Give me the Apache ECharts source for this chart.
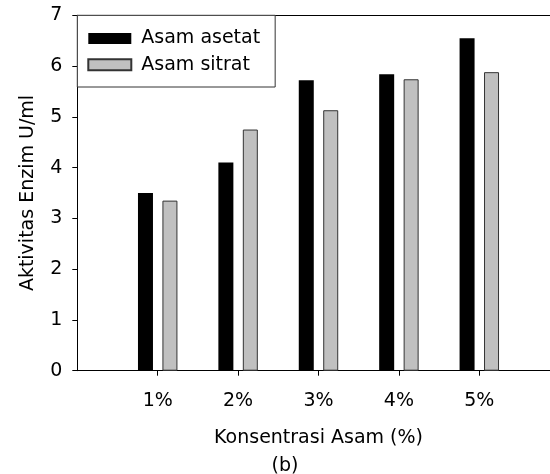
<!DOCTYPE html>
<html>
<head>
<meta charset="utf-8">
<script src="https://cdn.jsdelivr.net/npm/echarts@6/dist/echarts.min.js"></script>
<style>
  html, body { margin: 0; padding: 0; background: #fff; }
  #chart { width: 550px; height: 474px; }
</style>
</head>
<body>
<div id="chart"></div>
<script>
// Enzyme activity (U/ml) for each acid concentration
const categories = ['1%', '2%', '3%', '4%', '5%'];
const asamAsetat = [3.50, 4.10, 5.72, 5.84, 6.55];
const asamSitrat = [3.35, 4.75, 5.13, 5.74, 5.88];
const yTicks = [0, 1, 2, 3, 4, 5, 6, 7];

// Pad with an empty slot on each side so the groups sit between the axes
const axisCats = [''].concat(categories, ['']);
const pad = arr => [null].concat(arr, [null]);

const FONT = 'DejaVu Sans';
const chart = echarts.init(document.getElementById('chart'), null, { renderer: 'canvas' });

chart.setOption({
  animation: false,
  backgroundColor: '#fff',
  textStyle: { fontFamily: FONT },
  grid: {
    left: 77.3, top: 15.3, height: 355.4, width: 482.4,
    containLabel: false, outerBoundsMode: 'none'
  },
  legend: {
    orient: 'vertical',
    left: 77.3,
    top: 15.3,
    itemWidth: 43,
    itemHeight: 11,
    itemGap: 7.3,
    padding: [13.7, 15, 12.7, 10],
    borderColor: '#333',
    borderWidth: 1,
    backgroundColor: '#fff',
    icon: 'rect',
    textStyle: { fontFamily: FONT, fontSize: 19, color: '#000', padding: [0, 0, 0, 5] },
    data: ['Asam asetat', 'Asam sitrat']
  },
  xAxis: [
    {
      type: 'category',
      data: axisCats,
      boundaryGap: false,
      name: 'Konsentrasi Asam (%)',
      nameLocation: 'middle',
      nameGap: 58,
      nameTextStyle: { fontFamily: FONT, fontSize: 19, color: '#000' },
      axisLine: { lineStyle: { color: '#000', width: 1 } },
      axisTick: {
        length: 5,
        lineStyle: { color: '#000' },
        interval: i => i > 0 && i < axisCats.length - 1
      },
      axisLabel: { fontFamily: FONT, fontSize: 19, color: '#000', margin: 21, interval: 0 },
      splitLine: { show: false }
    },
    {
      type: 'category',
      data: axisCats,
      boundaryGap: false,
      position: 'top',
      axisLine: { lineStyle: { color: '#000', width: 1 } },
      axisTick: { show: false },
      axisLabel: { show: false },
      splitLine: { show: false }
    }
  ],
  yAxis: {
    type: 'value',
    min: yTicks[0],
    max: yTicks[yTicks.length - 1],
    interval: 1,
    name: 'Aktivitas Enzim U/ml',
    nameLocation: 'middle',
    nameGap: 40,
    nameTextStyle: { fontFamily: FONT, fontSize: 19, color: '#000' },
    axisLine: { show: true, lineStyle: { color: '#000', width: 1 } },
    axisTick: { show: true, length: 5, lineStyle: { color: '#000' } },
    axisLabel: { fontFamily: FONT, fontSize: 19, color: '#000', margin: 15 },
    splitLine: { show: false }
  },
  graphic: [
    {
      type: 'text',
      x: 285,
      y: 457,
      style: { text: '(b)', fontFamily: FONT, fontSize: 19, fill: '#000', textAlign: 'center' }
    }
  ],
  series: [
    {
      name: 'Asam asetat',
      type: 'bar',
      data: pad(asamAsetat),
      barWidth: 15,
      barGap: '63%',
      itemStyle: { color: '#000' }
    },
    {
      name: 'Asam sitrat',
      type: 'bar',
      data: pad(asamSitrat),
      barWidth: 15,
      itemStyle: { color: '#c0c0c0', borderColor: '#333', borderWidth: 1 }
    }
  ]
});
</script>
</body>
</html>
